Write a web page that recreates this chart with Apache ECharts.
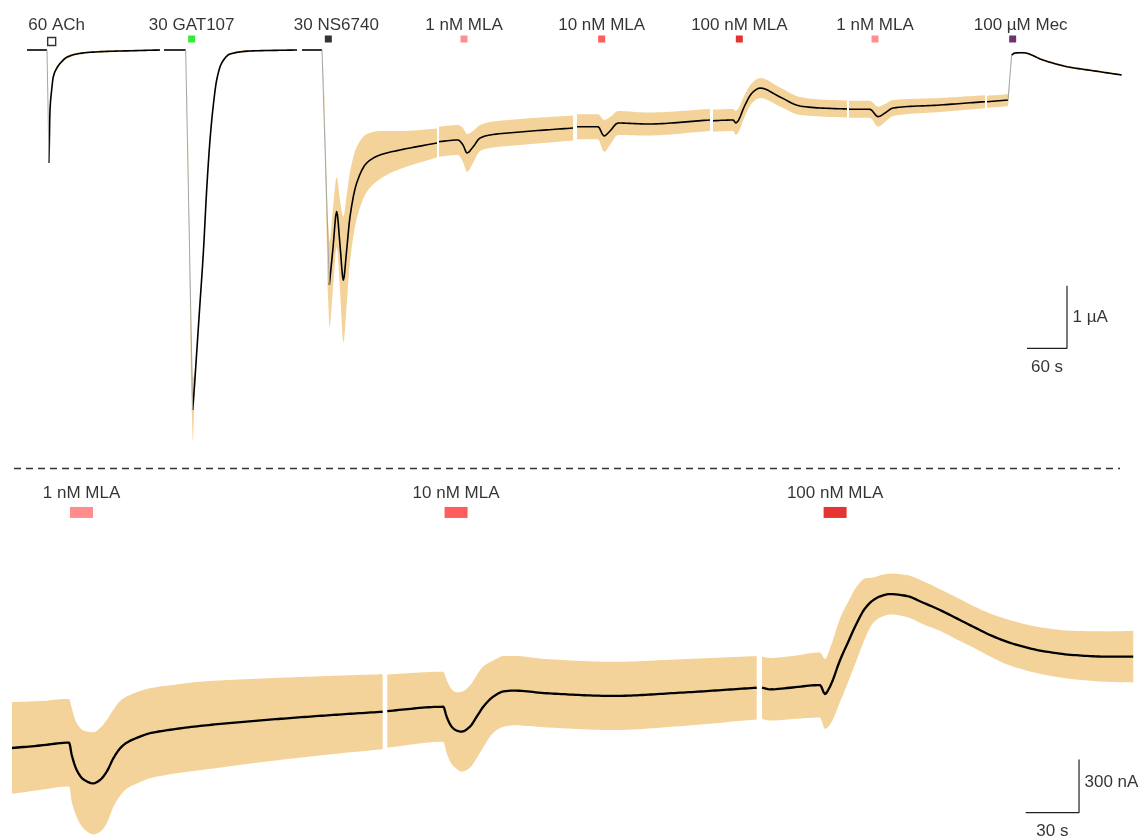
<!DOCTYPE html>
<html>
<head>
<meta charset="utf-8">
<script src="https://cdn.jsdelivr.net/npm/echarts@6/dist/echarts.min.js"></script>
<style>
  html, body { margin: 0; padding: 0; background: #fff; }
  #chart { width: 1139px; height: 838px; }
</style>
</head>
<body>
<div id="chart"></div>
<script>
// ---------------------------------------------------------------
// Mean current traces, one array per recording block.
// Each row: [time (s), mean current (nA), SEM (nA)]
// ---------------------------------------------------------------

// Overview (upper panel)
const achTrace = [
  [0, 0, 0], [30, 0, 0], [33, -1808, 40], [34.5, -960, 48], [37, -640, 40],
  [39.5, -427, 32], [44.5, -293, 28], [52, -187, 24], [59.5, -117, 24],
  [74.5, -64, 20], [94.5, -37, 16], [124.5, -21, 16], [159, -11, 14], [199.5, 0, 12]
];
const gatTrace = [
  [205.5, 0, 0], [238, 0, 0], [248.5, -5760, 512], [251.3, -5360, 192],
  [254.5, -4848, 64], [259.5, -4048, 48], [264.5, -3248, 48], [269.5, -2240, 48],
  [274.5, -1440, 48], [279.5, -880, 40], [284.5, -480, 32], [292, -208, 24],
  [304.5, -64, 16], [334.5, -16, 16], [405, 0, 12]
];
const nsTrace = [
  [412.5, 0, 0], [442.5, 0, 0], [453.5, -3760, 688], [459, -3168, 640],
  [464.5, -2587, 560], [469.5, -3120, 720], [474.5, -3680, 1008], [479.5, -3200, 880],
  [484.5, -2667, 720], [494.5, -2128, 576], [509.5, -1808, 464], [529.5, -1680, 384],
  [559.5, -1600, 304], [615, -1488, 232]
];
const mla1Trace = [
  [618, -1467, 240], [646.5, -1440, 240], [654, -1520, 272], [660, -1648, 304],
  [669, -1552, 256], [679.5, -1408, 208], [694.5, -1360, 208], [739.5, -1312, 208],
  [819, -1248, 200]
];
const mla10Trace = [
  [825, -1227, 200], [856.5, -1227, 200], [865.5, -1376, 256], [874.5, -1296, 224],
  [886.5, -1168, 192], [930, -1184, 184], [1024.5, -1120, 176]
];
const mla100Trace = [
  [1029, -1131, 176], [1059, -1120, 176], [1063.5, -1168, 192], [1077, -880, 176],
  [1087.5, -688, 160], [1099.5, -608, 160], [1129.5, -752, 152], [1159.5, -896, 144],
  [1189.5, -928, 136], [1230, -944, 136]
];
const mla1bTrace = [
  [1233, -949, 136], [1264.5, -949, 136], [1276.5, -1067, 160], [1287, -1008, 144],
  [1299, -928, 128], [1369.5, -880, 112], [1437, -827, 104]
];
const mecTrace = [
  [1440, -827, 96], [1471.5, -800, 96], [1477, -80, 24], [1482, -48, 16],
  [1494, -43, 16], [1524, -160, 16], [1560, -267, 16], [1599, -331, 16], [1642, -400, 16]
];

// Expanded MLA blocks (lower panel)
const mla1Zoom = [
  [0, 0, 258], [15.8, 14, 250], [32.1, 30, 246], [33.6, -39, 263], [36.4, -124, 264],
  [40.1, -176, 275], [45.7, -199, 287], [49.5, -180, 292], [53.3, -133, 290],
  [57, -58, 273], [60.8, -2, 267], [64.5, 30, 259], [72, 64, 256], [77.6, 83, 253],
  [90.7, 105, 250], [105.8, 124, 249], [143.3, 158, 234], [180.7, 186, 220], [208.5, 204, 211]
];
const mla10Zoom = [
  [211.1, 208, 206], [242.6, 232, 197], [244.5, 176, 206], [247.3, 120, 210],
  [250.1, 98, 215], [253, 92, 225], [257.6, 120, 231], [261.4, 176, 233],
  [265.1, 232, 228], [270.7, 289, 203], [276.4, 318, 199], [282, 323, 195],
  [300.8, 308, 192], [338.2, 293, 192], [375.8, 311, 188], [418.9, 339, 178]
];
const mla100Zoom = [
  [421.9, 339, 176], [426.4, 330, 176], [437.6, 339, 177], [454.5, 354, 183],
  [457.3, 304, 197], [460.1, 345, 214], [465.8, 495, 235], [470.4, 598, 225],
  [475.1, 701, 206], [479.8, 785, 169], [484.5, 832, 127], [489.2, 856, 118],
  [493.9, 866, 115], [503.3, 855, 118], [512.6, 817, 121], [522, 776, 117],
  [531.4, 729, 118], [540.7, 682, 117], [550.1, 636, 121], [559.5, 598, 127],
  [568.9, 570, 129], [578.3, 548, 131], [597, 523, 136], [615.8, 514, 142], [630.7, 514, 145]
];

// Row index at which the solution-exchange step starts (-1: none)
const topFastStep = [1, 1, 1, -1, -1, -1, -1, 1];

// Drug applications
const topDrugNames = ['60 ACh', '30 GAT107', '30 NS6740', '1 nM MLA', '10 nM MLA', '100 nM MLA', '1 nM MLA', '100 µM Mec'];
const topDrugTimes = [37, 247, 452, 655.5, 862, 1068.5, 1272, 1478.5];
const bottomDrugNames = ['1 nM MLA', '10 nM MLA', '100 nM MLA'];
const bottomDrugTimes = [39.1, 249.8, 463];

// Scale bars: [time span (s), current span (nA)]
const topScale = [60, 1000];
const bottomScale = [30, 300];

// ---------------------------------------------------------------
// Styling
// ---------------------------------------------------------------
const FONT = '"Liberation Sans", Arial, Helvetica, sans-serif';
const TEXT = '#000';
const BAND = '#f4d39a';
const topDrugColors = ['#ffffff', '#00e600', '#000000', '#ff7373', '#ff3333', '#dd0000', '#ff7373', '#4b004b'];
const bottomDrugColors = ['#ff7070', '#ff3333', '#e00000'];
const topLabelNudge = [5, 0, 8, 0, 0, 0, 0, 8];

// Layout rows / anchors in axis units
const TOP_LABEL_Y = 400, TOP_MARK_Y = 176;
const BOTTOM_LABEL_Y = 1434, BOTTOM_MARK_Y = 1325;
const TOP_BAR_ANCHOR = [1560, -4773];
const BOTTOM_BAR_ANCHOR = [600.2, -364];

// ---------------------------------------------------------------
// Drawing helpers
// ---------------------------------------------------------------

// Shape-preserving cubic (PCHIP) through pixel points, x increasing.
function smoothPath(p) {
  const n = p.length;
  if (n < 3) return p;
  const h = [], d = [];
  for (let i = 0; i < n - 1; i++) {
    h[i] = p[i + 1][0] - p[i][0];
    d[i] = (p[i + 1][1] - p[i][1]) / h[i];
  }
  const m = new Array(n);
  m[0] = d[0];
  m[n - 1] = d[n - 2];
  for (let i = 1; i < n - 1; i++) {
    if (d[i - 1] * d[i] <= 0) m[i] = 0;
    else {
      const w1 = 2 * h[i] + h[i - 1], w2 = h[i] + 2 * h[i - 1];
      m[i] = (w1 + w2) / (w1 / d[i - 1] + w2 / d[i]);
    }
  }
  const out = [p[0]];
  for (let i = 0; i < n - 1; i++) {
    const steps = Math.max(4, Math.ceil(h[i] / 3));
    for (let s = 1; s <= steps; s++) {
      const u = s / steps, u2 = u * u, u3 = u2 * u;
      const h00 = 2 * u3 - 3 * u2 + 1, h10 = u3 - 2 * u2 + u, h01 = -2 * u3 + 3 * u2, h11 = u3 - u2;
      out.push([
        p[i][0] + u * h[i],
        h00 * p[i][1] + h10 * h[i] * m[i] + h01 * p[i + 1][1] + h11 * h[i] * m[i + 1]
      ]);
    }
  }
  return out;
}

// SEM band (mean ± SEM) for each block
function bandSeries(traces, axis) {
  return {
    type: 'custom', xAxisIndex: axis, yAxisIndex: axis, silent: true, animation: false,
    data: traces.map((tr, i) => [tr[0][0], tr[0][1], i]),
    encode: { x: 0, y: 1 },
    renderItem: function (params, api) {
      const tr = traces[api.value(2)];
      const up = smoothPath(tr.map(r => api.coord([r[0], r[1] + r[2]])));
      const lo = smoothPath(tr.map(r => api.coord([r[0], r[1] - r[2]])));
      return {
        type: 'polygon', silent: true,
        shape: { points: up.concat(lo.reverse()) },
        style: { fill: BAND, stroke: null }
      };
    }
  };
}

// Mean trace; the solution-exchange step (if any) is drawn as a thin grey line
function meanSeries(traces, fast, axis, width) {
  return {
    type: 'custom', xAxisIndex: axis, yAxisIndex: axis, silent: true, animation: false,
    data: traces.map((tr, i) => [tr[0][0], tr[0][1], i]),
    encode: { x: 0, y: 1 },
    renderItem: function (params, api) {
      const k = api.value(2);
      const tr = traces[k];
      const f = fast ? fast[k] : -1;
      const parts = f >= 0 ? [tr.slice(0, f + 1), tr.slice(f + 1)] : [tr];
      const children = parts.filter(p => p.length > 1).map(p => ({
        type: 'polyline', silent: true,
        shape: { points: smoothPath(p.map(r => api.coord([r[0], r[1]]))) },
        style: { stroke: '#000', lineWidth: width, fill: null, lineJoin: 'round', lineCap: 'butt' }
      }));
      if (f >= 0) {
        children.push({
          type: 'polyline', silent: true,
          shape: { points: [api.coord([tr[f][0], tr[f][1]]), api.coord([tr[f + 1][0], tr[f + 1][1]])] },
          style: { stroke: '#a6a6a6', lineWidth: 1, fill: null }
        });
      }
      return { type: 'group', children: children };
    }
  };
}

function scaleBarSeries(axis, anchor, span, tLabel, yLabel, yOff) {
  const [t, y] = anchor;
  return [
    {
      type: 'line', xAxisIndex: axis, yAxisIndex: axis, symbol: 'none', silent: true, animation: false,
      data: [[t, y + span[1]], [t, y], [t - span[0], y]],
      lineStyle: { color: '#222', width: 1.2 }
    },
    {
      type: 'scatter', xAxisIndex: axis, yAxisIndex: axis, silent: true, animation: false,
      symbolSize: 1, itemStyle: { color: 'rgba(0,0,0,0)' },
      data: [
        { value: [t, y + span[1] / 2], label: { show: true, formatter: yLabel, position: 'right', distance: 5, offset: [0, yOff] } },
        { value: [t - span[0] / 2, y], label: { show: true, formatter: tLabel, position: 'bottom', distance: 10 } }
      ],
      label: { color: TEXT, fontSize: 17, fontFamily: FONT }
    }
  ];
}

const topTraces = [achTrace, gatTrace, nsTrace, mla1Trace, mla10Trace, mla100Trace, mla1bTrace, mecTrace];
const bottomTraces = [mla1Zoom, mla10Zoom, mla100Zoom];

const series = [
  bandSeries(topTraces, 0),
  meanSeries(topTraces, topFastStep, 0, 1.6),
  bandSeries(bottomTraces, 1),
  meanSeries(bottomTraces, null, 1, 2.3),
  // upper panel drug bars and names
  {
    type: 'scatter', xAxisIndex: 0, yAxisIndex: 0, silent: true, animation: false,
    symbol: 'rect', symbolSize: 7,
    data: topDrugTimes.map((t, i) => ({
      value: [t, TOP_MARK_Y],
      symbolSize: i === 0 ? 8 : 7,
      symbolOffset: i === 0 ? [0, 2.5] : [0, 0],
      itemStyle: i === 0
        ? { color: '#fff', borderColor: '#000', borderWidth: 1.4 }
        : { color: topDrugColors[i] }
    }))
  },
  {
    type: 'scatter', xAxisIndex: 0, yAxisIndex: 0, silent: true, animation: false,
    symbolSize: 1, itemStyle: { color: 'rgba(0,0,0,0)' },
    label: { show: true, position: 'inside', color: TEXT, fontSize: 17, fontFamily: FONT },
    data: topDrugTimes.map((t, i) => ({
      value: [t, TOP_LABEL_Y], name: topDrugNames[i],
      label: { formatter: topDrugNames[i], offset: [topLabelNudge[i], 0] }
    }))
  },
  // lower panel drug bars and names
  {
    type: 'scatter', xAxisIndex: 1, yAxisIndex: 1, silent: true, animation: false,
    symbol: 'rect', symbolSize: [23, 11],
    data: bottomDrugTimes.map((t, i) => ({ value: [t, BOTTOM_MARK_Y], itemStyle: { color: bottomDrugColors[i] } }))
  },
  {
    type: 'scatter', xAxisIndex: 1, yAxisIndex: 1, silent: true, animation: false,
    symbolSize: 1, itemStyle: { color: 'rgba(0,0,0,0)' },
    label: { show: true, position: 'inside', color: TEXT, fontSize: 17, fontFamily: FONT },
    data: bottomDrugTimes.map((t, i) => ({
      value: [t, BOTTOM_LABEL_Y], name: bottomDrugNames[i],
      label: { formatter: bottomDrugNames[i] }
    }))
  }
].concat(
  scaleBarSeries(0, TOP_BAR_ANCHOR, topScale, '60 s', '1 µA', 0),
  scaleBarSeries(1, BOTTOM_BAR_ANCHOR, bottomScale, '30 s', '300 nA', -4)
);

const hiddenAxis = { type: 'value', show: false, splitLine: { show: false } };

const chart = echarts.init(document.getElementById('chart'), null, { renderer: 'canvas' });
chart.setOption({
  backgroundColor: '#ffffff',
  animation: false,
  grid: [
    { left: 0, right: 0, top: 0, height: 470 },
    { left: 0, right: 0, top: 470, height: 368 }
  ],
  xAxis: [
    Object.assign({}, hiddenAxis, { gridIndex: 0, min: -40.5, max: 1668 }),
    Object.assign({}, hiddenAxis, { gridIndex: 1, min: -6.75, max: 633.94 })
  ],
  yAxis: [
    Object.assign({}, hiddenAxis, { gridIndex: 0, min: -6720, max: 800 }),
    Object.assign({}, hiddenAxis, { gridIndex: 1, min: -506.25, max: 1563.75 })
  ],
  graphic: [{
    type: 'line', silent: true,
    shape: { x1: 14, y1: 468.5, x2: 1120, y2: 468.5 },
    style: { stroke: '#333', lineWidth: 1.3, lineDash: [7, 5] }
  }],
  series: series
});
</script>
</body>
</html>
